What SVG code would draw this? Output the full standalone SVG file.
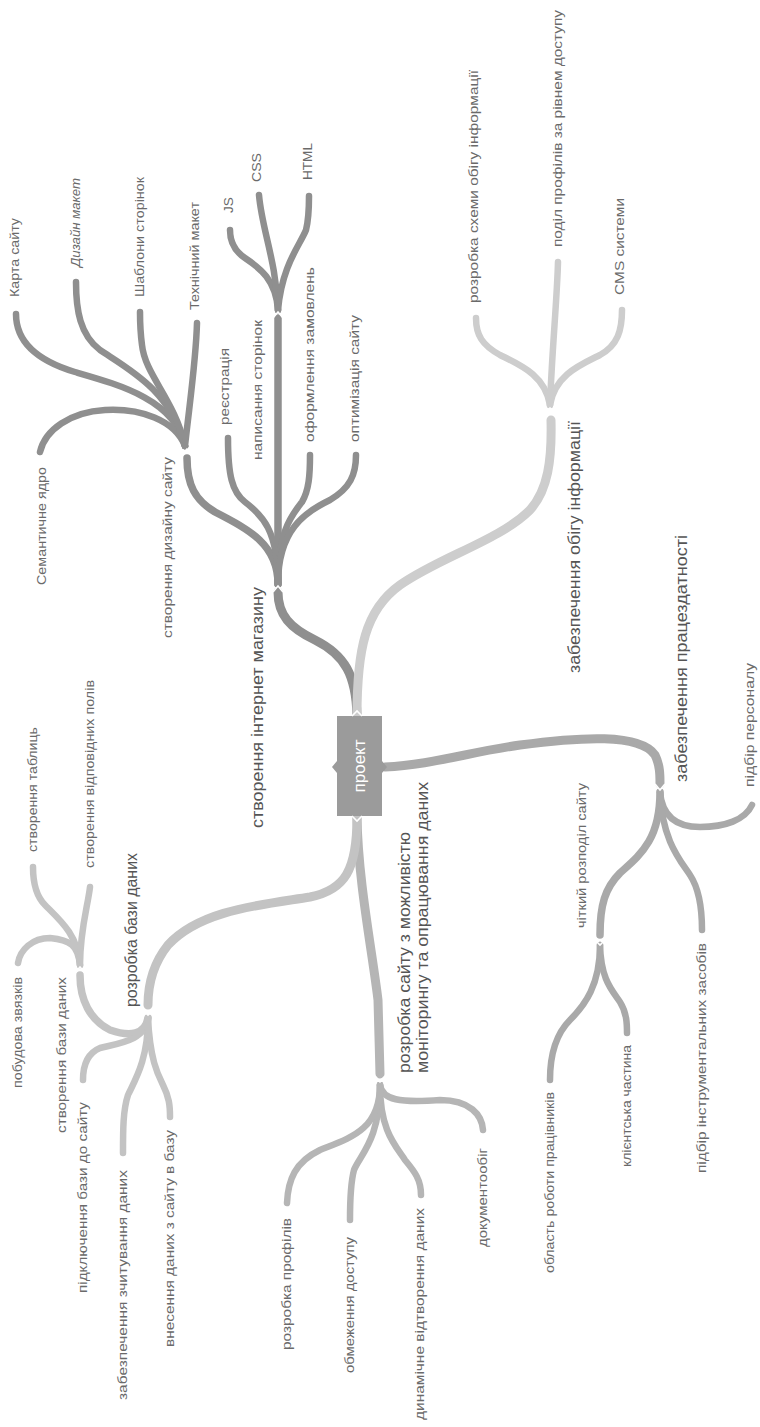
<svg xmlns="http://www.w3.org/2000/svg" width="760" height="1427" viewBox="0 0 760 1427">
<style>
.b{fill:none;stroke-linecap:round;stroke-linejoin:round}
.d{stroke:#8f8f8f}
.l{stroke:#cdcdcd}
.w{stroke:#a9a9a9}
.m{stroke:#b5b5b5}
.g{stroke:#c3c3c3}
.t0{stroke-width:9}
.t1{stroke-width:7.5}
.t2{stroke-width:6.5}
.n{fill:none;stroke:#fff;stroke-width:1.6}
text{font-family:"Liberation Sans",Arial,sans-serif}
.mt{font-size:16px;fill:#555}
.st{font-size:13.5px;fill:#6a6a6a}
.ct{font-size:17px;fill:#fff}
</style>
<rect width="760" height="1427" fill="#fff"/>
<g id="connectors">
<!-- internet shop -->
<path class="b d t0" d="M357,716 C356,675 345,655 315,640 C290,628 278,615 278,592"/>
<path class="b d t1" d="M278,584 C278,545 250,530 215,512 C195,500 187,485 187,458"/>
<path class="b d t2" d="M278,584 C278,530 262,515 245,502 C232,492 228,475 228,438"/>
<path class="b d t1" d="M278,584 L278,318"/>
<path class="b d t2" d="M278,584 C278,530 292,515 302,502 C309,490 310,475 310,455"/>
<path class="b d t2" d="M278,584 C278,530 305,512 330,500 C350,488 356,475 356,455"/>
<path class="b d t2" d="M185,446 C175,420 140,408 105,410 C70,412 45,430 40,452"/>
<path class="b d t2" d="M185,446 C175,400 120,385 75,372 C35,360 16,340 16,314"/>
<path class="b d t2" d="M185,446 C170,390 130,370 100,350 C80,335 76,310 76,282"/>
<path class="b d t2" d="M185,446 C175,400 145,375 142,345 C140,330 140,320 140,312"/>
<path class="b d t2" d="M185,446 C190,400 196,360 197,323"/>
<path class="b d t2" d="M278,310 C276,280 260,268 245,258 C233,250 230,240 230,230"/>
<path class="b d t2" d="M278,310 C276,260 262,230 259,195"/>
<path class="b d t2" d="M278,310 C282,265 300,245 306,230 C309,218 309,208 309,196"/>
<!-- information flow -->
<path class="b l t0" d="M357,716 C357,650 365,610 400,585 C440,557 500,540 530,510 C548,490 552,460 551,420"/>
<path class="b l t2" d="M550,405 C545,375 520,365 500,355 C482,345 476,335 476,318"/>
<path class="b l t2" d="M550,405 C552,350 557,300 558,262"/>
<path class="b l t2" d="M550,405 C555,375 580,365 600,355 C618,345 622,330 622,310"/>
<!-- operability -->
<path class="b w t0" d="M385,767 C430,765 470,752 520,745 C580,737 640,733 655,755 C660,765 660,775 660,784"/>
<path class="b w t2" d="M660,792 C662,815 675,827 700,827 C725,827 745,820 752,805"/>
<path class="b w t1" d="M660,792 C660,840 640,855 620,873 C605,888 600,905 600,935"/>
<path class="b w t2" d="M660,792 C662,840 680,860 690,875 C700,890 702,910 702,930"/>
<path class="b w t2" d="M600,945 C600,985 585,1005 570,1020 C555,1035 550,1055 550,1080"/>
<path class="b w t2" d="M600,945 C601,980 612,990 620,1002 C627,1013 627,1025 627,1033"/>
<!-- monitoring -->
<path class="b m t0" d="M357,817 C358,880 372,950 378,1000 L380,1074"/>
<path class="b m t2" d="M380,1085 C382,1100 400,1103 440,1100 C470,1100 482,1115 483,1130"/>
<path class="b m t2" d="M380,1085 C380,1130 395,1145 405,1160 C415,1172 421,1180 421,1195"/>
<path class="b m t2" d="M380,1085 C380,1140 360,1155 354,1170 C350,1185 350,1205 350,1220"/>
<path class="b m t2" d="M380,1085 C380,1130 350,1138 320,1150 C295,1162 288,1180 287,1203"/>
<!-- database -->
<path class="b g t0" d="M357,817 C357,870 345,890 310,897 C260,905 200,910 168,945 C152,965 148,985 148,1005"/>
<path class="b g t1" d="M148,1018 C145,1035 130,1037 110,1030 C90,1020 80,1000 80,975"/>
<path class="b g t2" d="M148,1018 C146,1040 120,1043 100,1048 C88,1053 83,1065 83,1080"/>
<path class="b g t2" d="M148,1018 C148,1060 135,1080 128,1095 C123,1110 123,1130 123,1153"/>
<path class="b g t2" d="M148,1018 C150,1060 158,1075 163,1085 C169,1097 170,1105 170,1117"/>
<path class="b g t2" d="M80,965 C78,945 70,940 50,938 C32,938 20,950 18,963"/>
<path class="b g t2" d="M80,965 C78,935 60,920 45,905 C35,895 33,880 33,867"/>
<path class="b g t2" d="M80,965 C80,930 88,905 90,887"/>
<!-- junction notches -->
<path class="n" d="M273,592 L278,586 L283,592"/>
<path class="n" d="M182,455 L187,449 L192,455"/>
<path class="n" d="M273,318 L278,312 L283,318"/>
<path class="n" d="M545,414 L550,408 L555,414"/>
<path class="n" d="M655,784 L660,790 L665,784"/>
<path class="n" d="M595,940 L600,945 L605,940"/>
<path class="n" d="M375,1076 L380,1082 L385,1076"/>
<path class="n" d="M143,1010 L148,1015 L153,1010"/>
<path class="n" d="M75,973 L80,967 L85,973"/>
</g>
<g id="center">
<path d="M337,716 L382,716 L382,761 L387,767 L382,773 L382,816 L337,816 L337,773 L332,767 L337,761 Z" fill="#9b9b9b"/>
<path class="n" d="M352,716 L357,711 L362,716"/>
<path class="n" d="M352,816 L357,821 L362,816"/>
<text class="ct" transform="translate(365,766) rotate(-90)" text-anchor="middle">проект</text>
</g>
<g id="n-shop"><text class="mt" transform="translate(262.5,828) rotate(-90)" textLength="241" lengthAdjust="spacingAndGlyphs">створення інтернет магазину</text></g>
<g id="n-info"><text class="mt" transform="translate(579.5,673) rotate(-90)" textLength="252" lengthAdjust="spacingAndGlyphs">забезпечення обігу інформації</text></g>
<g id="n-oper"><text class="mt" transform="translate(686.5,782) rotate(-90)" textLength="247" lengthAdjust="spacingAndGlyphs">забезпечення працездатності</text></g>
<g id="n-db"><text class="mt" transform="translate(136.5,1007) rotate(-90)" textLength="154" lengthAdjust="spacingAndGlyphs">розробка бази даних</text></g>
<g id="n-mon">
<text class="mt" transform="translate(409.5,1073) rotate(-90)" textLength="241" lengthAdjust="spacingAndGlyphs">розробка сайту з можливістю</text>
<text class="mt" transform="translate(427.5,1073) rotate(-90)" textLength="291" lengthAdjust="spacingAndGlyphs">моніторингу та опрацювання даних</text>
</g>
<g id="n-design"><text class="st" transform="translate(171.5,638) rotate(-90)" textLength="181" lengthAdjust="spacingAndGlyphs">створення дизайну сайту</text></g>
<g id="n-sem"><text class="st" transform="translate(45.5,585) rotate(-90)" textLength="118" lengthAdjust="spacingAndGlyphs">Семантичне ядро</text></g>
<g id="n-map"><text class="st" transform="translate(18.5,297) rotate(-90)" textLength="79" lengthAdjust="spacingAndGlyphs">Карта сайту</text></g>
<g id="n-dmak"><text class="st" font-style="italic" transform="translate(79.5,267) rotate(-90)" textLength="89" lengthAdjust="spacingAndGlyphs">Дизайн макет</text></g>
<g id="n-tpl"><text class="st" transform="translate(143.5,297) rotate(-90)" textLength="120" lengthAdjust="spacingAndGlyphs">Шаблони сторінок</text></g>
<g id="n-tmak"><text class="st" transform="translate(198.5,310) rotate(-90)" textLength="108" lengthAdjust="spacingAndGlyphs">Технічний макет</text></g>
<g id="n-reg"><text class="st" transform="translate(228.5,425) rotate(-90)" textLength="77" lengthAdjust="spacingAndGlyphs">реєстрація</text></g>
<g id="n-pages"><text class="st" transform="translate(261.5,460) rotate(-90)" textLength="140" lengthAdjust="spacingAndGlyphs">написання сторінок</text></g>
<g id="n-order"><text class="st" transform="translate(313.5,442) rotate(-90)" textLength="175" lengthAdjust="spacingAndGlyphs">оформлення замовлень</text></g>
<g id="n-opt"><text class="st" transform="translate(358.5,442) rotate(-90)" textLength="127" lengthAdjust="spacingAndGlyphs">оптимізація сайту</text></g>
<g id="n-js"><text class="st" transform="translate(232.5,213) rotate(-90)">JS</text></g>
<g id="n-css"><text class="st" transform="translate(260.5,182) rotate(-90)" textLength="29" lengthAdjust="spacingAndGlyphs">CSS</text></g>
<g id="n-html"><text class="st" transform="translate(311.5,180) rotate(-90)" textLength="37" lengthAdjust="spacingAndGlyphs">HTML</text></g>
<g id="n-scheme"><text class="st" transform="translate(477.5,303) rotate(-90)" textLength="233" lengthAdjust="spacingAndGlyphs">розробка схеми обігу інформації</text></g>
<g id="n-prof"><text class="st" transform="translate(561.5,247) rotate(-90)" textLength="237" lengthAdjust="spacingAndGlyphs">поділ профілів за рівнем доступу</text></g>
<g id="n-cms"><text class="st" transform="translate(623.5,295) rotate(-90)" textLength="97" lengthAdjust="spacingAndGlyphs">CMS системи</text></g>
<g id="n-staff"><text class="st" transform="translate(753.5,787) rotate(-90)" textLength="124" lengthAdjust="spacingAndGlyphs">підбір персоналу</text></g>
<g id="n-split"><text class="st" transform="translate(585.5,928) rotate(-90)" textLength="145" lengthAdjust="spacingAndGlyphs">чіткий розподіл сайту</text></g>
<g id="n-tools"><text class="st" transform="translate(705.5,1173) rotate(-90)" textLength="230" lengthAdjust="spacingAndGlyphs">підбір інструментальних засобів</text></g>
<g id="n-work"><text class="st" transform="translate(553.5,1273) rotate(-90)" textLength="181" lengthAdjust="spacingAndGlyphs">область роботи працівників</text></g>
<g id="n-client"><text class="st" transform="translate(630.5,1167) rotate(-90)" textLength="122" lengthAdjust="spacingAndGlyphs">клієнтська частина</text></g>
<g id="n-docs"><text class="st" transform="translate(486.5,1247) rotate(-90)" textLength="99" lengthAdjust="spacingAndGlyphs">документообіг</text></g>
<g id="n-dyn"><text class="st" transform="translate(423.5,1420) rotate(-90)" textLength="212" lengthAdjust="spacingAndGlyphs">динамічне відтворення даних</text></g>
<g id="n-limit"><text class="st" transform="translate(353.5,1373) rotate(-90)" textLength="136" lengthAdjust="spacingAndGlyphs">обмеження доступу</text></g>
<g id="n-profs"><text class="st" transform="translate(290.5,1350) rotate(-90)" textLength="132" lengthAdjust="spacingAndGlyphs">розробка профілів</text></g>
<g id="n-mkdb"><text class="st" transform="translate(65.5,1133) rotate(-90)" textLength="156" lengthAdjust="spacingAndGlyphs">створення бази даних</text></g>
<g id="n-conn"><text class="st" transform="translate(86.5,1293) rotate(-90)" textLength="191" lengthAdjust="spacingAndGlyphs">підключення бази до сайту</text></g>
<g id="n-read"><text class="st" transform="translate(126.5,1400) rotate(-90)" textLength="230" lengthAdjust="spacingAndGlyphs">забезпечення зчитування даних</text></g>
<g id="n-write"><text class="st" transform="translate(173.5,1347) rotate(-90)" textLength="217" lengthAdjust="spacingAndGlyphs">внесення даних з сайту в базу</text></g>
<g id="n-links"><text class="st" transform="translate(21.5,1088) rotate(-90)" textLength="111" lengthAdjust="spacingAndGlyphs">побудова звязків</text></g>
<g id="n-tables"><text class="st" transform="translate(36.5,852) rotate(-90)" textLength="125" lengthAdjust="spacingAndGlyphs">створення таблиць</text></g>
<g id="n-fields"><text class="st" transform="translate(93.5,868) rotate(-90)" textLength="188" lengthAdjust="spacingAndGlyphs">створення відповідних полів</text></g>
</svg>
